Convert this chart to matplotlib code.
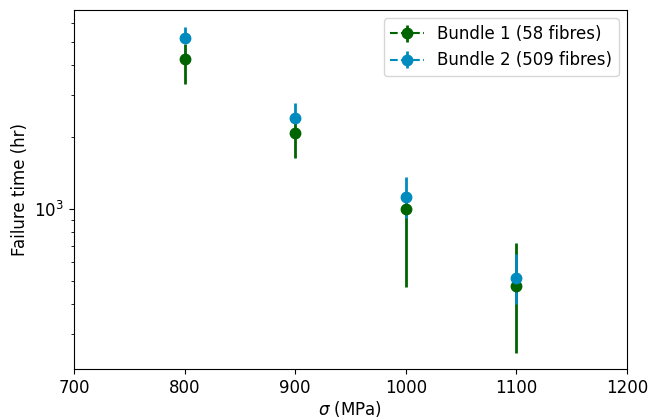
import numpy as np
import matplotlib
matplotlib.use("Agg")
import matplotlib.pyplot as plt

stress = [800, 900, 1000, 1100]

# bundle 1: 58 fibres
b1_time = [4227, 2070, 1000, 478]
b1_low = [3314, 1637, 471, 250]
b1_high = [4900, 2300, 1080, 723]

# bundle 2: 509 fibres
b2_time = [5190, 2404, 1119, 514]
b2_low = [5000, 2300, 920, 401]
b2_high = [5770, 2778, 1356, 652]

bundles = [
    ("Bundle 1 (58 fibres)", "#006400", b1_time, b1_low, b1_high),
    ("Bundle 2 (509 fibres)", "#008bbf", b2_time, b2_low, b2_high),
]

fig = plt.figure(figsize=(6.49, 4.19), dpi=100)
ax = fig.add_axes([0.114, 0.119, 0.852, 0.857])

for name, col, t, lo, hi in bundles:
    for i in range(len(stress)):
        err = [[t[i] - lo[i]], [hi[i] - t[i]]]
        ax.errorbar([stress[i]], [t[i]], yerr=err, fmt="o--", color=col,
                    markersize=7.5, elinewidth=2,
                    label=name if i == 0 else None)

ax.set_yscale("log")
ax.set_xlim(700, 1200)
ax.set_ylim(214.8, 6769)
ax.set_xticks([700, 800, 900, 1000, 1100, 1200])
ax.set_xlabel(r"$\sigma$ (MPa)", fontsize=12, labelpad=1.5)
ax.set_ylabel("Failure time (hr)", fontsize=12)
ax.tick_params(labelsize=12)
ax.legend(loc="upper right", fontsize=12)

fig.savefig("out.png", dpi=100)
